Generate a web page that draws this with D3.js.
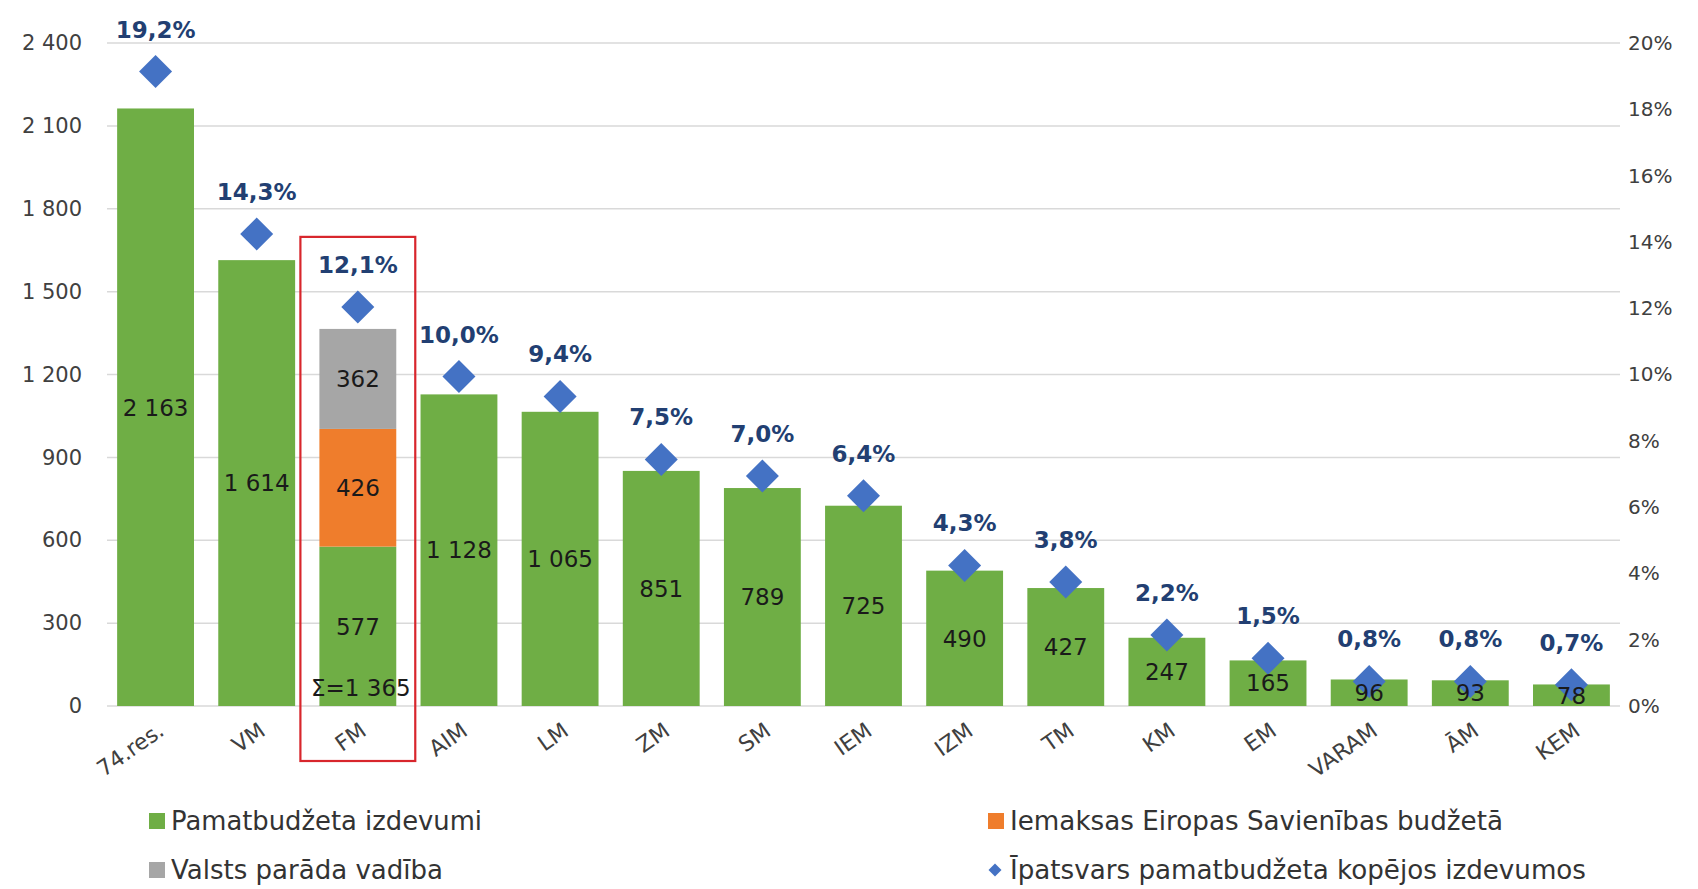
<!DOCTYPE html>
<html>
<head>
<meta charset="utf-8">
<script src="https://cdn.jsdelivr.net/npm/d3@7"></script>
<style>
  body { margin: 0; background: #fff; }
  svg { display: block; }
  text { font-family: "DejaVu Sans", Verdana, sans-serif; }
</style>
</head>
<body>
<div id="chart"></div>
<script>
// chart data
const categories = ["74.res.", "VM", "FM", "AIM", "LM", "ZM", "SM", "IEM", "IZM", "TM", "KM", "EM", "VARAM", "ĀM", "KEM"];
const baseValues = [2163, 1614, 577, 1128, 1065, 851, 789, 725, 490, 427, 247, 165, 96, 93, 78];
const euValues   = [0, 0, 426, 0, 0, 0, 0, 0, 0, 0, 0, 0, 0, 0, 0];
const debtValues = [0, 0, 362, 0, 0, 0, 0, 0, 0, 0, 0, 0, 0, 0, 0];
const shares = [19.2, 14.3, 12.1, 10.0, 9.4, 7.5, 7.0, 6.4, 4.3, 3.8, 2.2, 1.5, 0.8, 0.8, 0.7];
const leftTicks = [0, 300, 600, 900, 1200, 1500, 1800, 2100, 2400];
const rightTicks = [0, 2, 4, 6, 8, 10, 12, 14, 16, 18, 20];
const seriesKeys = ["base", "eu", "debt"];
const seriesNames = {
  base: "Pamatbudžeta izdevumi",
  eu: "Iemaksas Eiropas Savienības budžetā",
  debt: "Valsts parāda vadība",
  share: "Īpatsvars pamatbudžeta kopējos izdevumos"
};
const highlighted = "FM";

const width = 1698, height = 889;
const colors = { base: "#6fae45", eu: "#ef7d2c", debt: "#a6a6a6", share: "#4472c4" };

// latvian number style: space thousands, comma decimal
const lv = d3.formatLocale({ decimal: ",", thousands: " ", grouping: [3], currency: ["", ""] });
const fmtInt = lv.format(",d");
const fmtPct = v => lv.format(".1f")(v) + "%";

const rows = categories.map((c, i) => ({
  cat: c, base: baseValues[i], eu: euValues[i], debt: debtValues[i], share: shares[i]
}));

const svg = d3.select("#chart").append("svg")
  .attr("width", width).attr("height", height);

const x = d3.scaleBand().domain(categories).range([105, 1622])
  .paddingInner(0.24).paddingOuter(0.12);
const y = d3.scaleLinear().domain([0, 2400]).range([706, 43]);
const yPct = d3.scaleLinear().domain([0, 20]).range([706, 43]);

// gridlines
svg.append("g").selectAll("line").data(leftTicks).join("line")
  .attr("x1", 107).attr("x2", 1620)
  .attr("y1", d => y(d)).attr("y2", d => y(d))
  .attr("stroke", "#d9d9d9").attr("stroke-width", 1.5);

// left axis
const leftAxis = svg.append("g").attr("transform", "translate(82,0)")
  .call(d3.axisLeft(y).tickValues(leftTicks).tickFormat(fmtInt).tickSize(0).tickPadding(0));
leftAxis.select(".domain").remove();
leftAxis.selectAll("text").attr("font-size", 21).attr("fill", "#404040")
  .attr("font-family", "DejaVu Sans, sans-serif");

// right axis
const rightAxis = svg.append("g").attr("transform", "translate(1628,0)")
  .call(d3.axisRight(yPct).tickValues(rightTicks).tickFormat(d => d + "%").tickSize(0).tickPadding(0));
rightAxis.select(".domain").remove();
rightAxis.selectAll("text").attr("font-size", 20).attr("fill", "#404040")
  .attr("font-family", "DejaVu Sans, sans-serif");

// stacked bars
const stacked = d3.stack().keys(seriesKeys)(rows);
const barLayer = svg.append("g");
stacked.forEach(layer => {
  barLayer.append("g").attr("fill", colors[layer.key])
    .selectAll("rect").data(layer.filter(d => d[1] - d[0] > 0)).join("rect")
    .attr("x", d => x(d.data.cat))
    .attr("width", x.bandwidth())
    .attr("y", d => y(d[1]))
    .attr("height", d => y(d[0]) - y(d[1]));
});

// highlight frame
const hx = x(highlighted);
const hIdx = categories.indexOf(highlighted);
svg.append("rect")
  .attr("x", hx - 19).attr("width", x.bandwidth() + 38)
  .attr("y", yPct(shares[hIdx]) - 68)
  .attr("height", y(0) + 55 - (yPct(shares[hIdx]) - 68))
  .attr("fill", "none").attr("stroke", "#d8262c").attr("stroke-width", 2.2);

// diamonds
const diamond = r => `M0,${-r}L${r},0L0,${r}L${-r},0Z`;
svg.append("g").selectAll("path").data(rows).join("path")
  .attr("d", diamond(16.5))
  .attr("transform", d => `translate(${x(d.cat) + x.bandwidth() / 2},${yPct(d.share) + 2})`)
  .attr("fill", colors.share);

// segment value labels
const labelLayer = svg.append("g").attr("font-size", 23).attr("fill", "#1a1a1a")
  .attr("text-anchor", "middle");
stacked.forEach(layer => {
  labelLayer.append("g").selectAll("text")
    .data(layer.filter(d => d[1] - d[0] > 0)).join("text")
    .attr("x", d => x(d.data.cat) + x.bandwidth() / 2)
    .attr("y", d => (y(d[0]) + y(d[1])) / 2)
    .attr("dy", "0.36em")
    .text(d => fmtInt(d[1] - d[0]));
});

// total for highlighted stack
const hTotal = baseValues[hIdx] + euValues[hIdx] + debtValues[hIdx];
labelLayer.append("text")
  .attr("x", hx + x.bandwidth() / 2 + 3)
  .attr("y", y(0) - 18).attr("dy", "0.36em")
  .text("Σ=" + fmtInt(hTotal));

// share labels
svg.append("g").selectAll("text").data(rows).join("text")
  .attr("x", d => x(d.cat) + x.bandwidth() / 2)
  .attr("y", d => yPct(d.share) - 32)
  .attr("text-anchor", "middle")
  .attr("font-size", 23).attr("font-weight", "bold").attr("fill", "#223f72")
  .text(d => fmtPct(d.share));

// category labels, rotated
svg.append("g").selectAll("text").data(categories).join("text")
  .attr("text-anchor", "end")
  .attr("transform", d => `translate(${x(d) + x.bandwidth() / 2 + 10},${y(0) + 28}) rotate(-35)`)
  .attr("font-size", 22).attr("fill", "#404040")
  .text(d => d);

// legend
const legendItems = [
  { key: "base", x: 149, y: 821, w: 311 },
  { key: "eu", x: 988, y: 821, w: 493 },
  { key: "debt", x: 149, y: 870, w: 272 },
  { key: "share", x: 988, y: 870, w: 576 }
];
const legend = svg.append("g");
legendItems.forEach(it => {
  const g = legend.append("g").attr("transform", `translate(${it.x},${it.y})`);
  if (it.key === "share") {
    g.append("path").attr("d", diamond(6.5)).attr("transform", "translate(7,0)")
      .attr("fill", colors.share);
  } else {
    g.append("rect").attr("x", 0).attr("y", -8).attr("width", 16).attr("height", 16)
      .attr("fill", colors[it.key]);
  }
  g.append("text").attr("x", 22).attr("dy", "0.36em")
    .attr("font-family", "DejaVu Sans Condensed, DejaVu Sans, sans-serif")
    .attr("font-size", 26).attr("fill", "#333")
    .attr("textLength", it.w).attr("lengthAdjust", "spacingAndGlyphs")
    .text(seriesNames[it.key]);
});
</script>
</body>
</html>
